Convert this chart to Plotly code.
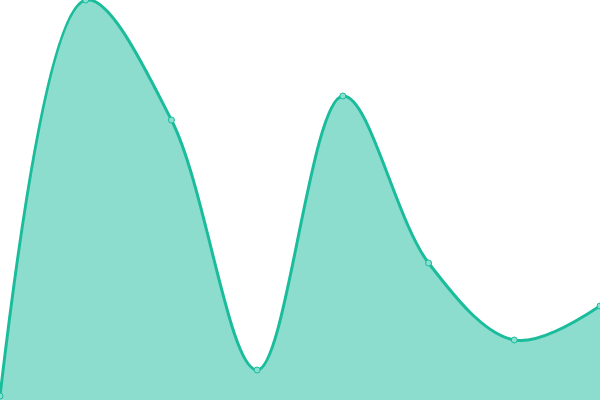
import plotly.graph_objects as go

# data
x_index = [0, 1, 2, 3, 4, 5, 6, 7]
values = [4, 400, 280, 30, 304, 137, 60, 94]

LINE_COLOR = "#1abc9c"
FILL_COLOR = "rgba(26, 188, 156, 0.5)"

fig = go.Figure()
fig.add_trace(
    go.Scatter(
        x=x_index,
        y=values,
        mode="lines+markers",
        line=dict(color=LINE_COLOR, width=3, shape="spline", smoothing=1),
        fill="tozeroy",
        fillcolor=FILL_COLOR,
        marker=dict(size=6, color="#8ae0d0", line=dict(color=LINE_COLOR, width=1)),
        cliponaxis=False,
        hoverinfo="x+y",
    )
)

fig.update_layout(
    width=600,
    height=400,
    margin=dict(l=0, r=0, t=0, b=0),
    paper_bgcolor="white",
    plot_bgcolor="white",
    showlegend=False,
    xaxis=dict(range=[0, 7], visible=False, fixedrange=True),
    yaxis=dict(range=[0, 400], visible=False, fixedrange=True),
)

# full-bleed: drop the page's default body margin
fig.write_html(
    "out.html",
    config={"displayModeBar": False},
    post_script="document.body.style.margin='0';document.body.style.overflow='hidden';",
)
